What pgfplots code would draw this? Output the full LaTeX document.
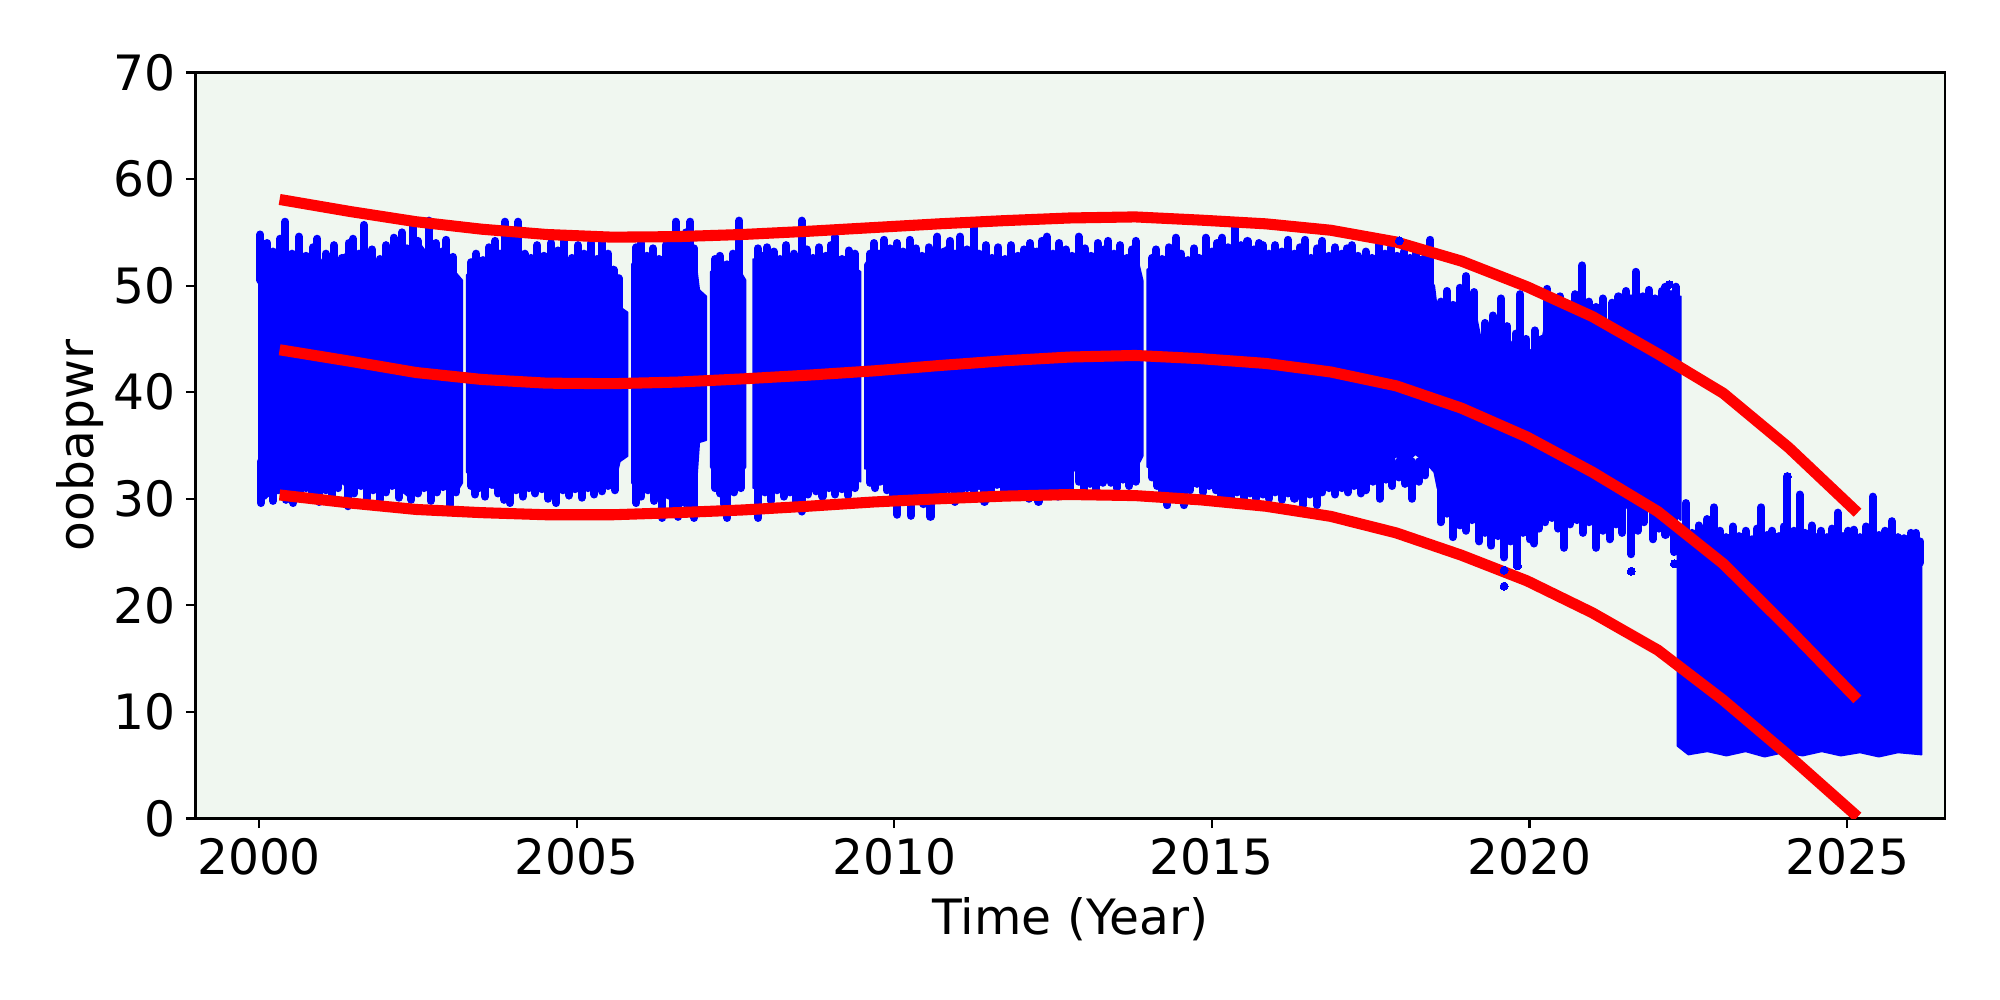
\documentclass[border=0pt]{standalone}
\usepackage{fontspec}
\setmainfont{DejaVu Sans}
\usepackage{pgfplots}
\usepackage{pgfplotstable}
\pgfplotsset{compat=1.18}
\definecolor{bgc}{RGB}{240,247,240}
\newcommand\fs{\fontsize{17.6}{21}\selectfont}
% vertical runs of points: x, upper end a, lower end b
\pgfplotstableread{
x a b
2000.02 54.8 50.5
2000.13 54.0 50.5
2000.22 53.2 50.5
2000.33 54.4 50.5
2000.41 56.0 50.5
2000.52 53.0 50.5
2000.63 54.6 50.5
2000.74 52.8 50.5
2000.85 53.6 50.5
2000.92 54.4 50.5
2001.05 53.0 50.5
2001.18 53.8 50.5
2001.30 52.6 50.5
2001.41 54.0 50.5
2001.48 54.4 50.5
2001.58 53.0 50.5
2001.65 55.7 50.5
2001.78 53.4 50.5
2001.90 52.5 50.5
2002.00 53.8 50.5
2002.12 54.5 50.5
2002.25 55.0 50.5
2002.33 53.5 50.5
2002.42 56.1 50.5
2002.50 54.2 50.5
2002.60 53.0 50.5
2002.67 56.1 50.5
2002.78 54.0 50.5
2002.88 53.2 50.5
2002.95 54.3 50.5
2003.05 52.7 50.5
2003.34 52.2 50.5
2003.42 53.0 50.5
2003.52 52.4 50.5
2003.62 53.6 50.5
2003.72 54.2 50.5
2003.80 53.0 50.5
2003.87 56.0 50.5
2003.95 54.5 50.5
2004.02 53.5 50.5
2004.08 56.0 50.5
2004.18 53.0 50.5
2004.28 52.6 50.5
2004.38 53.8 50.5
2004.48 52.8 50.5
2004.60 54.0 50.5
2004.70 53.3 50.5
2004.80 54.3 50.5
2004.92 52.6 50.5
2005.02 53.8 50.5
2005.12 53.0 50.5
2005.22 54.0 50.5
2005.32 52.5 50.5
2005.40 54.2 50.5
2005.50 53.0 50.5
2005.58 51.5 48.0
2005.66 50.7 47.0
2005.94 53.6 50.5
2006.02 54.0 50.5
2006.10 52.8 50.5
2006.20 53.5 50.5
2006.30 52.5 50.5
2006.40 53.8 50.5
2006.48 54.5 50.5
2006.56 56.0 50.5
2006.66 54.0 50.5
2006.72 55.0 50.5
2006.79 56.0 50.5
2006.85 53.5 50.5
2007.18 52.5 50.0
2007.25 52.8 50.0
2007.36 52.0 50.0
2007.46 53.0 50.0
2007.56 56.1 50.0
2007.85 53.5 50.5
2007.92 52.8 50.5
2008.00 53.6 50.5
2008.10 53.2 50.5
2008.20 52.5 50.5
2008.30 53.8 50.5
2008.42 53.0 50.5
2008.54 56.1 50.5
2008.62 53.4 50.5
2008.72 52.6 50.5
2008.82 53.6 50.5
2008.92 52.8 50.5
2009.00 53.8 50.5
2009.07 54.6 50.5
2009.18 52.5 50.5
2009.28 53.3 50.5
2009.38 53.0 50.5
2009.62 53.0 50.5
2009.68 54.0 50.5
2009.76 53.0 50.5
2009.84 54.3 50.5
2009.94 53.5 50.5
2010.04 54.0 50.5
2010.14 53.2 50.5
2010.24 54.3 50.5
2010.34 53.5 50.5
2010.44 52.8 50.5
2010.54 53.6 50.5
2010.60 52.8 50.5
2010.68 54.6 50.5
2010.78 53.2 50.5
2010.88 54.2 50.5
2010.96 53.0 50.5
2011.04 54.6 50.5
2011.14 53.4 50.5
2011.25 55.5 50.5
2011.34 53.0 50.5
2011.44 53.8 50.5
2011.54 52.6 50.5
2011.64 53.6 50.5
2011.74 52.5 50.5
2011.84 53.8 50.5
2011.94 52.8 50.5
2012.04 53.4 50.5
2012.14 54.0 50.5
2012.24 53.2 50.5
2012.32 54.2 50.5
2012.40 54.6 50.5
2012.50 53.0 50.5
2012.60 54.0 50.5
2012.70 53.4 50.5
2012.80 52.8 50.5
2012.90 54.6 50.5
2013.00 53.5 50.5
2013.10 52.8 50.5
2013.20 54.0 50.5
2013.30 53.4 50.5
2013.37 54.2 50.5
2013.46 53.0 50.5
2013.56 53.8 50.5
2013.66 52.6 50.5
2013.74 53.4 50.5
2013.80 54.2 50.5
2014.06 52.6 50.5
2014.12 53.4 50.5
2014.22 52.5 50.5
2014.32 53.6 50.5
2014.43 54.5 50.5
2014.52 53.0 50.5
2014.62 52.4 50.5
2014.72 53.5 50.5
2014.80 52.6 50.5
2014.90 54.5 50.5
2015.00 53.2 50.5
2015.08 54.0 50.5
2015.16 54.5 50.5
2015.26 53.6 50.5
2015.37 55.7 50.5
2015.46 53.8 50.5
2015.56 54.2 50.5
2015.66 53.4 50.5
2015.74 54.0 50.5
2015.80 53.8 50.5
2015.90 53.0 50.5
2016.00 53.8 50.5
2016.10 53.2 50.5
2016.20 54.3 50.5
2016.30 53.0 50.5
2016.38 53.6 50.5
2016.47 54.3 50.5
2016.56 52.6 50.5
2016.66 53.5 50.5
2016.74 54.2 50.5
2016.84 52.8 50.5
2016.94 53.6 50.5
2017.04 53.0 50.5
2017.12 53.5 50.5
2017.20 53.8 50.5
2017.30 52.8 50.5
2017.42 53.2 50.5
2017.52 52.6 50.5
2017.63 54.0 50.5
2017.72 53.0 50.5
2017.82 53.6 50.5
2017.92 52.8 50.5
2018.02 53.2 50.5
2018.12 52.6 50.5
2018.22 53.4 50.5
2018.32 52.5 50.5
2018.44 54.3 50.0
2018.60 48.5 46.0
2018.70 49.5 46.0
2018.80 48.2 46.0
2018.90 49.8 46.0
2019.00 50.9 46.0
2019.08 48.8 46.0
2019.13 49.4 46.0
2019.30 46.5 43.0
2019.42 47.2 43.0
2019.55 48.8 43.0
2019.65 46.2 43.0
2019.78 45.5 42.5
2019.85 49.2 42.5
2019.95 45.0 42.5
2020.08 45.8 42.5
2020.20 45.0 42.5
2020.28 49.7 45.5
2020.38 48.5 45.5
2020.48 49.0 45.5
2020.60 48.3 45.5
2020.72 49.2 45.5
2020.83 51.9 45.5
2020.93 48.5 45.5
2021.05 48.0 45.5
2021.15 48.8 45.5
2021.30 48.4 45.5
2021.40 49.0 45.5
2021.52 49.5 45.5
2021.60 48.8 45.5
2021.67 51.3 45.5
2021.78 49.0 45.5
2021.88 49.6 45.5
2021.98 48.8 45.5
2022.08 49.5 45.5
2022.14 49.9 45.5
2022.22 49.2 45.5
2022.30 49.9 45.5
2000.03 33.5 29.6
2000.12 33.5 30.5
2000.22 33.5 29.8
2000.30 33.5 30.8
2000.42 33.5 29.9
2000.54 33.5 29.6
2000.64 33.5 30.6
2000.74 33.5 31.0
2000.84 33.5 30.2
2000.95 33.5 29.7
2001.05 33.5 30.8
2001.15 33.5 30.2
2001.25 33.5 31.0
2001.40 33.5 29.3
2001.50 33.5 30.5
2001.60 33.5 31.2
2001.70 33.5 30.0
2001.80 33.5 30.8
2001.90 33.5 29.9
2002.00 33.5 30.6
2002.10 33.5 31.2
2002.20 33.5 30.1
2002.30 33.5 30.8
2002.40 33.5 29.9
2002.50 33.5 30.5
2002.60 33.5 31.0
2002.70 33.5 29.8
2002.80 33.5 30.6
2002.90 33.5 31.1
2003.00 33.5 29.4
2003.10 33.5 30.6
2003.34 33.5 31.2
2003.40 33.5 30.4
2003.46 33.5 31.0
2003.56 33.5 30.2
2003.66 33.5 31.3
2003.76 33.5 30.5
2003.86 33.5 29.9
2003.95 33.5 29.6
2004.05 33.5 30.8
2004.15 33.5 30.2
2004.25 33.5 31.0
2004.35 33.5 30.5
2004.45 33.5 30.9
2004.55 33.5 30.0
2004.68 33.5 29.6
2004.78 33.5 30.8
2004.88 33.5 30.3
2004.98 33.5 30.9
2005.08 33.5 30.1
2005.18 33.5 31.0
2005.28 33.5 30.4
2005.40 33.5 30.7
2005.50 33.5 31.2
2005.60 33.5 30.8
2005.94 33.5 29.6
2006.02 33.5 30.2
2006.12 33.5 30.8
2006.22 33.5 29.8
2006.35 33.5 28.2
2006.45 33.5 30.3
2006.52 33.5 29.2
2006.60 33.5 28.3
2006.70 33.5 29.6
2006.78 33.5 29.0
2006.85 33.5 28.2
2007.18 33.5 31.0
2007.26 33.5 30.5
2007.32 33.5 29.5
2007.37 33.5 28.2
2007.48 33.5 30.6
2007.58 33.5 31.0
2007.86 33.5 28.2
2007.96 33.5 30.6
2008.06 33.5 29.8
2008.16 33.5 30.8
2008.26 33.5 30.2
2008.36 33.5 30.6
2008.46 33.5 29.6
2008.54 33.5 28.8
2008.64 33.5 30.4
2008.77 33.5 30.7
2008.87 33.5 30.2
2008.97 33.5 31.0
2009.07 33.5 30.4
2009.17 33.5 30.9
2009.27 33.5 30.3
2009.38 33.5 31.0
2009.62 33.5 31.5
2009.70 33.5 31.0
2009.78 33.5 31.6
2009.88 33.5 30.8
2009.98 33.5 30.2
2010.05 33.5 28.5
2010.15 33.5 29.8
2010.26 33.5 28.4
2010.36 33.5 30.2
2010.46 33.5 29.5
2010.57 33.5 28.3
2010.66 33.5 30.4
2010.76 33.5 30.0
2010.86 33.5 30.9
2010.95 33.5 29.7
2011.05 33.5 30.6
2011.15 33.5 31.0
2011.25 33.5 30.4
2011.34 33.5 31.2
2011.42 33.5 29.7
2011.52 33.5 30.8
2011.62 33.5 31.3
2011.72 33.5 30.5
2011.82 33.5 31.0
2011.92 33.5 30.2
2012.02 33.5 30.7
2012.12 33.5 30.0
2012.20 33.5 30.8
2012.27 33.5 29.7
2012.37 33.5 30.4
2012.47 33.5 31.0
2012.57 33.5 30.2
2012.67 33.5 30.9
2012.77 33.5 30.4
2012.90 33.5 31.6
2012.98 33.5 30.8
2013.08 33.5 31.4
2013.18 33.5 30.6
2013.28 33.5 31.5
2013.41 33.5 31.5
2013.50 33.5 31.0
2013.60 33.5 31.8
2013.70 33.5 31.2
2013.80 33.5 31.6
2014.06 33.5 32.0
2014.14 33.5 31.2
2014.22 33.5 30.6
2014.30 33.5 29.4
2014.40 33.5 30.8
2014.48 33.5 30.0
2014.56 33.5 29.4
2014.66 33.5 30.8
2014.76 33.5 31.4
2014.86 33.5 30.6
2014.96 33.5 31.2
2015.06 33.5 30.8
2015.14 33.5 30.2
2015.20 33.5 30.4
2015.30 33.5 30.0
2015.40 33.5 30.6
2015.50 33.5 29.8
2015.60 33.5 30.5
2015.70 33.5 30.0
2015.80 33.5 30.4
2015.90 33.5 30.0
2016.00 33.5 30.6
2016.10 33.5 29.9
2016.20 33.5 30.5
2016.30 33.5 30.0
2016.38 33.5 30.4
2016.44 33.5 29.4
2016.54 33.5 30.4
2016.65 33.5 29.4
2016.74 33.5 30.6
2016.84 33.5 31.0
2016.94 33.5 30.4
2017.04 33.5 31.0
2017.14 33.5 30.6
2017.24 33.5 31.2
2017.34 33.5 30.5
2017.42 33.5 30.8
2017.54 33.5 31.6
2017.64 33.5 30.0
2017.74 33.5 31.8
2017.84 33.5 31.2
2017.94 33.5 32.0
2018.04 33.5 31.4
2018.15 33.5 30.0
2018.26 33.5 31.6
2018.36 33.5 32.2
2018.60 31.0 27.8
2018.70 31.0 28.6
2018.79 31.0 26.4
2018.90 31.0 27.5
2019.00 31.0 27.0
2019.10 31.0 28.0
2019.21 31.0 26.0
2019.30 31.0 26.8
2019.40 31.0 25.6
2019.50 31.0 26.5
2019.60 31.0 24.5
2019.70 31.0 26.0
2019.81 31.0 23.7
2019.90 31.0 26.8
2020.00 31.0 26.2
2020.07 31.0 25.8
2020.15 31.0 27.2
2020.25 31.0 27.8
2020.35 31.0 28.2
2020.45 31.0 27.2
2020.54 31.0 25.4
2020.64 31.0 27.6
2020.74 31.0 28.0
2020.84 31.0 26.8
2020.94 31.0 27.8
2021.05 31.0 25.4
2021.15 31.0 27.0
2021.26 31.0 26.2
2021.36 31.0 27.6
2021.46 31.0 26.8
2021.60 31.0 24.8
2021.70 31.0 27.0
2021.80 31.0 27.8
2021.94 31.0 26.2
2022.04 31.0 27.2
2022.14 31.0 26.6
2022.28 31.0 25.0
2022.38 27.0 24.0
2022.46 29.6 24.0
2022.56 26.8 24.0
2022.66 27.5 24.0
2022.74 26.2 24.0
2022.80 28.1 24.0
2022.90 29.2 24.0
2023.00 27.0 24.0
2023.10 26.4 24.0
2023.20 27.4 24.0
2023.30 26.5 24.0
2023.40 27.0 24.0
2023.50 26.2 24.0
2023.58 27.2 24.0
2023.65 29.2 24.0
2023.74 26.6 24.0
2023.82 27.0 24.0
2023.92 26.5 24.0
2024.00 27.4 24.0
2024.06 32.1 24.0
2024.16 27.0 24.0
2024.25 30.4 24.0
2024.34 26.8 24.0
2024.44 27.5 24.0
2024.52 26.4 24.0
2024.59 27.0 24.0
2024.68 26.4 24.0
2024.76 27.2 24.0
2024.85 28.7 24.0
2024.94 26.5 24.0
2025.02 27.0 24.0
2025.10 27.1 24.0
2025.20 26.4 24.0
2025.30 27.4 24.0
2025.40 30.2 24.0
2025.50 26.6 24.0
2025.60 27.0 24.0
2025.70 27.9 24.0
2025.80 26.4 24.0
2025.90 26.3 24.0
2026.00 26.8 24.0
2026.08 26.8 24.0
2026.15 26.0 24.0
}\spikes
\begin{document}
\begin{tikzpicture}
\useasboundingbox (-0.9775in,-0.9075in) rectangle (9.0225in,4.0925in);
\begin{axis}[
  at={(0,0)}, anchor=south west,
  scale only axis, width=8.7475in, height=3.73in,
  xmin=1999, xmax=2026.54, ymin=0, ymax=70,
  axis background/.style={fill=bgc},
  xtick={2000,2005,2010,2015,2020,2025},
  ytick={0,10,20,30,40,50,60,70},
  tick pos=left, tick align=outside,
  major tick length=3.5pt,
  tick style={black, line width=0.8pt},
  axis line style={black, line width=0.8pt},
  /pgf/number format/1000 sep={},
  /pgf/number format/assume math mode=true,
  every tick label/.append style={font=\fs, inner sep=0pt},
  xticklabel shift=3.6pt, yticklabel shift=3.6pt,
  label style={font=\fs, inner sep=0pt},
  xlabel={Time (Year)}, ylabel={oobapwr},
  xlabel style={at={(axis description cs:0.5,-0.156)}, anchor=base},
  ylabel style={at={(axis description cs:-0.0584,0.5)}, anchor=base},
  blk/.style={fill=blue, draw=blue, line width=0.6pt, line join=round},
  dots/.style={only marks, mark=*, mark size=1.45pt, mark options={fill=blue, draw=blue, line width=0pt}},
  fit/.style={red, line width=4pt, line join=round, line cap=rect},
]
% Block A
\addplot[blk] coordinates {(2000.0,53.5)(2000.1,54.0)(2000.25,52.5)(2000.4,53.8)(2000.55,51.5)(2000.7,52.8)(2000.85,51.0)(2001.0,52.5)(2001.15,51.2)(2001.3,52.8)(2001.45,53.2)(2001.6,52.0)(2001.75,53.5)(2001.9,51.5)(2002.05,52.3)(2002.2,53.9)(2002.35,52.2)(2002.5,54.2)(2002.65,53.0)(2002.8,51.8)(2002.95,53.5)(2003.1,51.2)(2003.2,50.5)
(2003.2,31.5)(2003.1,30.5)(2002.95,31.0)(2002.8,31.8)(2002.65,30.8)(2002.5,31.5)(2002.35,30.2)(2002.2,31.0)(2002.05,31.8)(2001.9,30.5)(2001.75,31.2)(2001.6,32.0)(2001.45,30.8)(2001.3,31.5)(2001.15,32.2)(2001.0,31.0)(2000.85,32.0)(2000.7,31.0)(2000.55,31.5)(2000.4,30.2)(2000.25,31.0)(2000.1,30.0)(2000.0,30.5)} -- cycle;
% Block B
\addplot[blk] coordinates {(2003.27,51.0)(2003.4,51.8)(2003.55,51.3)(2003.7,52.5)(2003.85,53.5)(2004.0,54.0)(2004.15,52.0)(2004.3,51.5)(2004.45,53.0)(2004.6,52.5)(2004.75,53.4)(2004.9,51.8)(2005.05,53.3)(2005.2,52.5)(2005.35,51.0)(2005.5,52.3)(2005.6,50.0)(2005.68,48.0)(2005.8,47.5)
(2005.8,34.0)(2005.68,33.5)(2005.6,31.5)(2005.5,32.0)(2005.35,31.0)(2005.2,31.6)(2005.05,30.8)(2004.9,31.0)(2004.75,31.8)(2004.6,30.6)(2004.45,31.3)(2004.3,32.0)(2004.15,30.8)(2004.0,31.5)(2003.85,30.5)(2003.7,31.0)(2003.55,32.2)(2003.4,31.8)(2003.27,32.5)} -- cycle;
% Block C
\addplot[blk] coordinates {(2005.87,52.0)(2006.0,53.2)(2006.15,52.0)(2006.3,51.5)(2006.45,52.8)(2006.6,53.8)(2006.75,53.5)(2006.88,52.0)(2006.93,49.6)(2007.04,49.0)
(2007.04,35.5)(2006.93,35.3)(2006.88,31.0)(2006.75,30.0)(2006.6,30.2)(2006.45,31.5)(2006.3,30.8)(2006.15,31.2)(2006.0,30.5)(2005.87,31.5)} -- cycle;
% Block D
\addplot[blk] coordinates {(2007.11,51.3)(2007.25,51.8)(2007.4,51.0)(2007.55,51.6)(2007.66,50.5)
(2007.66,33.0)(2007.55,32.0)(2007.4,31.0)(2007.25,31.5)(2007.11,33.0)} -- cycle;
% Block E
\addplot[blk] coordinates {(2007.78,52.5)(2007.95,51.8)(2008.1,52.5)(2008.25,51.3)(2008.4,52.0)(2008.55,53.5)(2008.7,51.2)(2008.85,52.3)(2009.0,51.8)(2009.15,51.0)(2009.3,52.0)(2009.47,51.3)
(2009.47,31.6)(2009.3,32.0)(2009.15,31.5)(2009.0,31.2)(2008.85,32.2)(2008.7,31.5)(2008.55,30.5)(2008.4,31.3)(2008.25,32.0)(2008.1,31.2)(2007.95,31.8)(2007.78,31.0)} -- cycle;
% Block F
\addplot[blk] coordinates {(2009.54,52.0)(2009.65,53.0)(2009.8,52.2)(2009.95,53.5)(2010.1,52.0)(2010.25,53.8)(2010.4,52.5)(2010.55,51.8)(2010.7,53.0)(2010.85,53.8)(2011.0,52.5)(2011.15,52.0)(2011.3,53.2)(2011.45,51.8)(2011.6,52.5)(2011.75,51.5)(2011.9,52.8)(2012.05,52.0)(2012.2,53.5)(2012.35,52.6)(2012.5,51.8)(2012.65,53.6)(2012.8,52.5)(2012.95,53.0)(2013.1,52.0)(2013.25,53.2)(2013.4,52.5)(2013.55,53.0)(2013.7,51.5)(2013.85,52.0)(2013.91,50.5)
(2013.91,34.0)(2013.85,33.3)(2013.7,32.5)(2013.55,33.0)(2013.4,32.2)(2013.25,33.0)(2013.1,32.0)(2012.95,33.2)(2012.8,32.5)(2012.65,31.8)(2012.5,32.8)(2012.35,31.5)(2012.2,32.3)(2012.05,31.0)(2011.9,32.0)(2011.75,33.0)(2011.6,32.2)(2011.45,33.5)(2011.3,32.8)(2011.15,31.8)(2011.0,32.5)(2010.85,31.5)(2010.7,32.0)(2010.55,31.2)(2010.4,32.5)(2010.25,31.5)(2010.1,32.0)(2009.95,33.2)(2009.8,32.5)(2009.65,33.5)(2009.54,32.8)} -- cycle;
% Block G
\addplot[blk] coordinates {(2013.98,51.5)(2014.15,52.2)(2014.3,51.0)(2014.45,52.5)(2014.6,51.3)(2014.75,52.0)(2014.9,51.5)(2015.05,52.8)(2015.2,53.0)(2015.35,51.8)(2015.5,53.3)(2015.65,52.2)(2015.8,53.2)(2015.95,52.0)(2016.1,53.0)(2016.25,51.5)(2016.4,52.5)(2016.55,51.0)(2016.7,52.3)(2016.85,51.2)(2017.0,52.6)(2017.15,51.5)(2017.3,52.0)(2017.45,51.0)(2017.6,52.4)(2017.75,51.6)(2017.9,52.5)(2018.05,51.3)(2018.2,52.0)(2018.35,51.0)(2018.5,50.0)(2018.55,47.5)(2018.7,47.0)(2018.85,47.8)(2019.0,48.3)(2019.15,47.5)(2019.25,44.5)(2019.4,45.5)(2019.55,43.5)(2019.7,44.8)(2019.85,43.0)(2020.0,44.0)(2020.15,43.5)(2020.25,46.5)(2020.4,47.5)(2020.55,46.8)(2020.7,47.8)(2020.85,47.0)(2021.0,46.5)(2021.15,47.2)(2021.3,46.3)(2021.45,47.5)(2021.6,48.2)(2021.75,47.0)(2021.9,48.0)(2022.05,47.3)(2022.2,48.5)(2022.38,49.0)
(2022.38,28.0)(2022.2,29.0)(2022.05,28.3)(2021.9,29.5)(2021.75,28.8)(2021.6,29.8)(2021.45,28.6)(2021.3,29.2)(2021.15,28.5)(2021.0,29.5)(2020.85,29.0)(2020.7,30.2)(2020.55,29.3)(2020.4,30.0)(2020.25,29.8)(2020.15,29.2)(2020.0,28.0)(2019.85,29.0)(2019.7,27.8)(2019.55,28.8)(2019.4,27.5)(2019.25,28.0)(2019.15,29.5)(2019.0,28.5)(2018.85,29.0)(2018.7,30.0)(2018.55,31.0)(2018.5,32.5)(2018.35,33.5)(2018.2,34.2)(2018.05,33.2)(2017.9,34.0)(2017.75,33.0)(2017.6,33.5)(2017.45,32.8)(2017.3,31.5)(2017.15,32.0)(2017.0,31.2)(2016.85,32.6)(2016.7,31.5)(2016.55,32.2)(2016.4,31.0)(2016.25,31.8)(2016.1,30.8)(2015.95,31.6)(2015.8,30.5)(2015.65,31.5)(2015.5,30.8)(2015.35,31.8)(2015.2,31.2)(2015.05,32.0)(2014.9,33.3)(2014.75,32.6)(2014.6,33.0)(2014.45,32.0)(2014.3,33.2)(2014.15,32.5)(2013.98,33.0)} -- cycle;
% Block H
\addplot[blk] coordinates {(2022.33,26.0)(2022.5,25.0)(2022.7,25.8)(2022.9,24.8)(2023.1,25.5)(2023.3,24.6)(2023.5,25.6)(2023.7,24.9)(2023.9,25.4)(2024.1,24.7)(2024.3,25.5)(2024.5,24.8)(2024.7,25.3)(2024.9,24.6)(2025.1,25.5)(2025.3,24.8)(2025.5,25.2)(2025.7,24.6)(2025.9,25.3)(2026.05,24.8)(2026.17,25.5)
(2026.17,6.0)(2025.8,6.2)(2025.5,5.8)(2025.2,6.2)(2024.9,5.9)(2024.6,6.3)(2024.3,5.9)(2024.0,6.2)(2023.7,5.8)(2023.4,6.3)(2023.1,5.9)(2022.8,6.3)(2022.5,6.0)(2022.33,6.8)} -- cycle;
% vertical runs of points
\addplot[draw=none, no markers, forget plot, error bars/.cd, y dir=minus, y explicit, error mark=none,
  error bar style={draw=blue, line width=2.9pt, line cap=round}]
  table[x=x, y=a, y error minus expr=\thisrow{a}-\thisrow{b}] {\spikes};
% isolated points
\addplot[dots] coordinates {(2019.6,21.8)(2019.6,23.3)(2021.6,23.2)(2022.28,23.9)(2019.81,23.7)(2017.95,54.2)(2022.2,50.1)(2024.06,32.1)};
% fitted curves
\addplot[fit] coordinates {(2000.41,58.0)(2001.44,56.95)(2002.47,56.0)(2003.50,55.3)(2004.53,54.8)(2005.56,54.55)(2006.58,54.6)(2007.61,54.8)(2008.64,55.1)(2009.67,55.45)(2010.70,55.8)(2011.73,56.1)(2012.76,56.35)(2013.79,56.45)(2014.82,56.15)(2015.85,55.8)(2016.87,55.2)(2017.90,54.1)(2018.93,52.3)(2019.96,49.9)(2020.99,47.1)(2022.02,43.6)(2023.05,39.9)(2024.08,34.8)(2025.10,29.05)};
\addplot[fit] coordinates {(2000.41,43.9)(2001.44,42.9)(2002.47,41.85)(2003.50,41.2)(2004.53,40.85)(2005.56,40.8)(2006.58,40.95)(2007.61,41.25)(2008.64,41.6)(2009.67,42.0)(2010.70,42.5)(2011.73,42.95)(2012.76,43.3)(2013.79,43.45)(2014.82,43.15)(2015.85,42.7)(2016.87,41.9)(2017.90,40.6)(2018.93,38.5)(2019.96,35.8)(2020.99,32.5)(2022.02,28.8)(2023.05,23.9)(2024.08,17.8)(2025.10,11.55)};
\addplot[fit] coordinates {(2000.41,30.3)(2001.44,29.6)(2002.47,29.0)(2003.50,28.7)(2004.53,28.5)(2005.56,28.5)(2006.58,28.7)(2007.61,28.95)(2008.64,29.3)(2009.67,29.7)(2010.70,30.0)(2011.73,30.25)(2012.76,30.4)(2013.79,30.3)(2014.82,29.9)(2015.85,29.3)(2016.87,28.35)(2017.90,26.8)(2018.93,24.7)(2019.96,22.3)(2020.99,19.3)(2022.02,15.8)(2023.05,11.1)(2024.08,5.9)(2025.10,0.5)};
\end{axis}
\end{tikzpicture}
\end{document}
